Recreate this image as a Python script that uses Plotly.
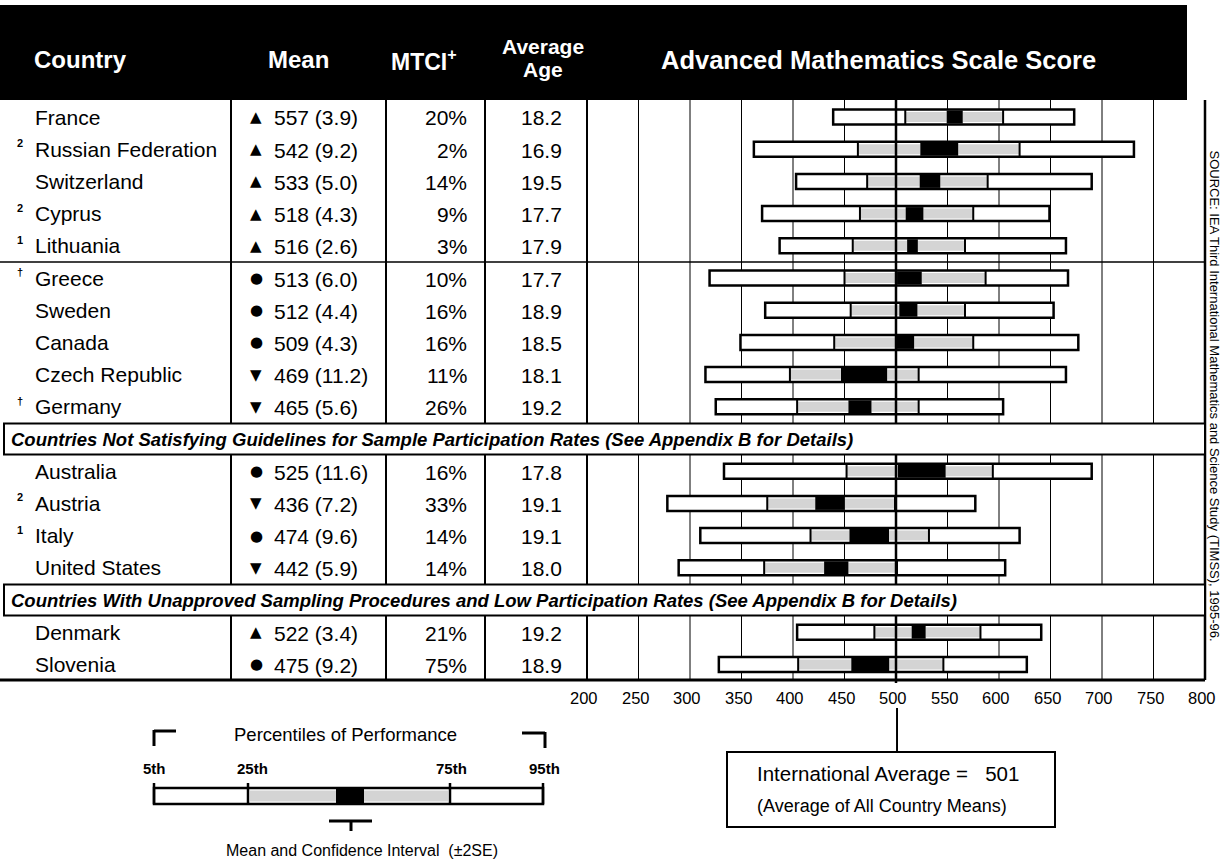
import plotly.graph_objects as go

W, H = 1220, 862

# ---------------- data ----------------
countries = ["France", "Russian Federation", "Switzerland", "Cyprus", "Lithuania", "Greece",
             "Sweden", "Canada", "Czech Republic", "Germany", "Australia", "Austria", "Italy",
             "United States", "Denmark", "Slovenia"]
notes = ["", "2", "", "2", "1", "†", "", "", "", "†", "", "2", "1", "", "", ""]
groups = [0, 0, 0, 0, 0, 0, 0, 0, 0, 0, 1, 1, 1, 1, 2, 2]
means = [557, 542, 533, 518, 516, 513, 512, 509, 469, 465, 525, 436, 474, 442, 522, 475]
ses = [3.9, 9.2, 5.0, 4.3, 2.6, 6.0, 4.4, 4.3, 11.2, 5.6, 11.6, 7.2, 9.6, 5.9, 3.4, 9.2]
mtci = ["20%", "2%", "14%", "9%", "3%", "10%", "16%", "16%", "11%", "26%", "16%", "33%",
        "14%", "14%", "21%", "75%"]
ages = ["18.2", "16.9", "19.5", "17.7", "17.9", "17.7", "18.9", "18.5", "18.1", "19.2",
        "17.8", "19.1", "19.1", "18.0", "19.2", "18.9"]
signif = ["up", "up", "up", "up", "up", "same", "same", "same", "down", "down",
          "same", "down", "same", "down", "up", "same"]
p5 = [439, 362, 403, 370, 387, 319, 373, 349, 315, 325, 333, 278, 310, 289, 404, 328]
p25 = [509, 463, 472, 465, 458, 450, 456, 440, 397, 404, 452, 375, 417, 372, 479, 405]
p75 = [604, 620, 589, 575, 567, 587, 567, 575, 522, 522, 594, 499, 532, 501, 582, 546]
p95 = [673, 731, 690, 649, 665, 667, 653, 677, 665, 604, 690, 577, 620, 606, 641, 627]
group_titles = [
    "Countries Not Satisfying Guidelines for Sample Participation Rates (See Appendix B for Details)",
    "Countries With Unapproved Sampling Procedures and Low Participation Rates (See Appendix B for Details)",
]
scale_ticks = [200, 250, 300, 350, 400, 450, 500, 550, 600, 650, 700, 750, 800]
intl_avg = 501
source_text = "SOURCE: IEA Third International Mathematics and Science Study (TIMSS), 1995-96."

# ---------------- layout constants (pixels) ----------------
FONT = "Liberation Sans, Arial, Helvetica, sans-serif"
SYMFONT = "DejaVu Sans, sans-serif"
X200, X800 = 587, 1205
ROW0, STEP = 117, 32.2
COLS = [231, 386, 485, 587]
TOP, BOTTOM = 100, 680
SYM = {"up": "▲", "same": "●", "down": "▼"}
GREY = "#d4d4d4"


def px(x):
    return x / W


def py(y):
    return 1 - y / H


shapes = []
ann = []


def rect(x0, y0, x1, y1, fill="white", lw=0, lc="black", xref="paper"):
    fx = (lambda v: v) if xref == "x" else px
    shapes.append(dict(type="rect", xref=xref, yref="paper", x0=fx(x0), x1=fx(x1),
                       y0=py(y0), y1=py(y1), fillcolor=fill,
                       line=dict(width=lw, color=lc)))


def line(x0, y0, x1, y1, lw=1.5, xref="paper"):
    fx = (lambda v: v) if xref == "x" else px
    shapes.append(dict(type="line", xref=xref, yref="paper", x0=fx(x0), x1=fx(x1),
                       y0=py(y0), y1=py(y1), line=dict(width=lw, color="black")))


def text(x, y, s, size=20, color="black", xanchor="center", bold=False, italic=False,
         xref="paper", angle=0, family=FONT, xshift=0):
    if bold:
        s = "<b>" + s + "</b>"
    if italic:
        s = "<i>" + s + "</i>"
    ann.append(dict(x=(x if xref == "x" else px(x)), y=py(y), xref=xref, yref="paper",
                    text=s, showarrow=False, xanchor=xanchor, yanchor="middle",
                    textangle=angle, xshift=xshift,
                    font=dict(family=family, size=size, color=color)))


# header band
rect(0, 5, 1187, TOP, fill="black")
text(80, 60, "Country", size=24, color="white", bold=True)
text(298, 60, "Mean", size=24, color="white", bold=True)
text(424, 60, "MTCI<sup>+</sup>", size=23, color="white", bold=True)
text(543, 46, "Average", size=21, color="white", bold=True)
text(543, 69, "Age", size=21, color="white", bold=True)
text(878, 60, "Advanced Mathematics Scale Score", size=25.5, color="white", bold=True)

# grid lines of the scale (the 500 line is drawn later, over the bars)
for t in scale_ticks[1:-1]:
    if t != 500:
        line(t, TOP, t, BOTTOM, lw=1, xref="x")

# table column lines and borders
for c in COLS:
    line(c, TOP, c, BOTTOM, lw=2)
line(X800, TOP, X800, BOTTOM, lw=2.5)
line(0, 262, X800, 262, lw=1.5)
line(0, BOTTOM, X800, BOTTOM, lw=3)

# slots
slots = [i + g for i, g in enumerate(groups)]
header_slots = [slots[groups.index(g)] - 1 for g in (1, 2)]

# rows
for i, name in enumerate(countries):
    yc = ROW0 + STEP * slots[i]
    if notes[i]:
        text(20, yc - 6, notes[i], size=11, bold=True)
    text(33, yc, name, size=21, xanchor="left")
    text(256, yc, SYM[signif[i]], size=15, family=SYMFONT)
    text(272, yc + 1, f"{means[i]} ({ses[i]})", size=21, xanchor="left")
    text(469, yc + 1, mtci[i], size=21, xanchor="right")
    text(541, yc + 1, ages[i], size=21)

    lo = means[i] - 2 * ses[i]
    hi = means[i] + 2 * ses[i]
    rect(p5[i], yc - 7.5, p95[i], yc + 7.5, fill="white", lw=2.5, xref="x")
    rect(p25[i], yc - 5, lo, yc + 5, fill=GREY, xref="x")
    rect(hi, yc - 5, p75[i], yc + 5, fill=GREY, xref="x")
    rect(lo, yc - 6.5, hi, yc + 6.5, fill="black", xref="x")
    line(p25[i], yc - 7.5, p25[i], yc + 7.5, lw=2, xref="x")
    line(p75[i], yc - 7.5, p75[i], yc + 7.5, lw=2, xref="x")

# 500 reference line, drawn through the bars
line(500, TOP, 500, BOTTOM + 3, lw=2.5, xref="x")

# group separator boxes
for hs, title in zip(header_slots, group_titles):
    yc = ROW0 + STEP * hs
    rect(4, yc - 15.5, X800, yc + 15.5, fill="white", lw=2)
    text(9, yc, title, size=18.5, xanchor="left", bold=True, italic=True)

# scale tick labels
for t in scale_ticks:
    text(t, 698, str(t), size=16.5, xref="x", xshift=-3)

# international average
line(intl_avg, 708, intl_avg, 752, lw=2, xref="x")
rect(727, 752, 1055, 827, fill="white", lw=2)
text(755, 773, "International Average =   " + str(intl_avg), size=20.5, xanchor="left")
text(755, 806, "(Average of All Country Means)", size=18, xanchor="left")

# legend (schematic)
line(154, 731, 176, 731, lw=3)
line(154, 730, 154, 746, lw=3)
line(522, 733, 545, 733, lw=3)
line(545, 732, 545, 748, lw=3)
text(345, 734, "Percentiles of Performance", size=18.5)
text(154, 768, "5th", size=15, bold=True)
text(252, 768, "25th", size=15, bold=True)
text(451, 768, "75th", size=15, bold=True)
text(544, 768, "95th", size=15, bold=True)
rect(154, 788, 543, 804, fill="white", lw=2.5)
rect(250, 790.5, 336, 801.5, fill=GREY)
rect(364, 790.5, 448, 801.5, fill=GREY)
rect(336, 789, 364, 803, fill="black")
for xt in (154, 248, 450, 543):
    line(xt, 783, xt, 804, lw=2.5)
line(329, 821, 372, 821, lw=3)
line(351, 821, 351, 831, lw=3)
text(362, 850, "Mean and Confidence Interval  (±2SE)", size=16)

# vertical source note
text(1213.5, 396, source_text, size=13, angle=90)

fig = go.Figure()
fig.add_trace(go.Scatter(x=[200, 800], y=[0, 0], mode="markers",
                         marker=dict(opacity=0), hoverinfo="skip", showlegend=False))
fig.update_layout(
    width=W, height=H, margin=dict(l=0, r=0, t=0, b=0),
    paper_bgcolor="white", plot_bgcolor="rgba(0,0,0,0)",
    xaxis=dict(domain=[px(X200), px(X800)], range=[200, 800], visible=False, fixedrange=True),
    yaxis=dict(domain=[0, 1], range=[0, 1], visible=False, fixedrange=True),
    shapes=shapes, annotations=ann, showlegend=False,
)
fig.write_html("out.html", config={"displayModeBar": False},
               post_script="document.body.style.margin='0px';")
